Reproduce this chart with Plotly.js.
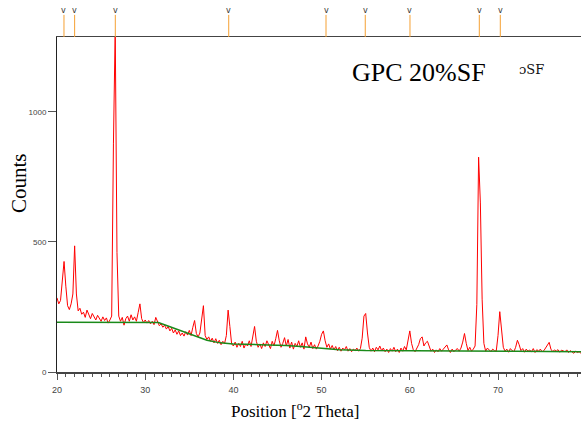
<!DOCTYPE html>
<html>
<head>
<meta charset="utf-8">
<script src="https://cdn.plot.ly/plotly-3.0.1.min.js"></script>
<style>html,body{margin:0;padding:0;background:#fff;}#chart{width:581px;height:424px;}</style>
</head>
<body>
<div id="chart"></div>
<script>
// Scan grid (degrees 2-theta)
const startAngle = 20.0;
const stepAngle = 0.2;
const counts = [
  285,262,275,340,425,330,255,240,262,300,
  485,300,235,245,222,230,210,238,218,205,
  225,212,200,218,205,195,212,198,208,188,
  200,215,880,1320,460,215,195,210,180,205,
  215,195,220,200,212,195,228,262,205,190,
  200,188,198,185,195,182,210,190,178,185,
  172,180,165,175,158,168,150,162,145,158,
  140,150,138,155,142,160,140,172,198,148,
  135,150,215,255,140,125,135,118,130,112,
  128,110,122,105,118,110,140,238,175,108,
  100,115,95,110,98,118,92,108,100,120,
  98,130,175,118,95,108,90,112,98,120,
  102,90,118,100,128,160,120,95,110,132,
  100,125,92,115,88,110,98,120,95,112,
  88,135,108,95,115,90,105,88,100,118,
  145,158,120,95,108,88,102,85,98,82,
  95,80,92,85,98,80,90,78,88,82,
  92,80,90,130,215,225,150,95,80,92,
  78,95,85,100,82,92,78,88,75,90,
  80,95,78,88,75,92,80,98,85,130,
  158,110,85,78,92,105,128,135,100,112,
  118,95,80,88,75,85,78,90,80,88,
  95,104,85,75,88,78,85,90,80,92,
  115,148,110,82,95,80,88,100,260,826,
  650,280,110,80,92,85,78,88,82,80,
  140,232,170,95,80,88,76,90,82,78,
  95,122,105,82,90,76,88,80,84,78,
  90,75,86,80,88,78,82,92,105,114,
  88,78,85,80,86,76,84,80,78,85,
  75,82,78,72,80,75,78,72
];
const angles = counts.map((_, i) => +(startAngle + i * stepAngle).toFixed(2));

// Background curve
const bgAngles = [20, 31.5, 32.5, 34, 35.5, 37, 38.5, 40, 43, 46, 48, 50, 52, 55, 58, 65, 72, 79.5];
const bgCounts = [191, 190, 178, 160, 140, 122, 112, 108, 105, 102, 97, 91, 86, 83, 82, 81, 80, 78];

// Reference peak positions (top markers)
const refPeaks = [20.79, 22.0, 26.61, 39.47, 50.5, 54.95, 60.02, 67.88, 70.26];

// Tick labels
const xTicks = [20, 30, 40, 50, 60, 70];
const yTicks = [0, 500, 1000];

const traces = [
  {x: angles, y: counts, type: 'scatter', mode: 'lines',
   line: {color: '#ff0000', width: 1}, hoverinfo: 'skip'},
  {x: bgAngles, y: bgCounts, type: 'scatter', mode: 'lines',
   line: {color: '#1a8a1a', width: 1.5}, hoverinfo: 'skip'}
];

const shapes = refPeaks.map(p => ({
  type: 'line', xref: 'x', yref: 'paper', x0: p, x1: p, y0: 1, y1: 1.066,
  line: {color: '#f5a033', width: 1}
}));

const annotations = refPeaks.map(p => ({
  x: p, xref: 'x', y: 1.078, yref: 'paper', text: 'v', showarrow: false,
  font: {family: 'DejaVu Sans, sans-serif', size: 8, color: '#333'},
  xanchor: 'center', yanchor: 'middle'
}));

annotations.push(
  {x: -0.0725, y: 0.564, xref: 'paper', yref: 'paper', text: 'Counts', showarrow: false,
   textangle: -90, xanchor: 'center', yanchor: 'middle',
   font: {family: 'Liberation Serif, serif', size: 21, color: '#000'}},
  {x: 0.454, y: -0.113, xref: 'paper', yref: 'paper', text: 'Position [<sup>o</sup>2 Theta]', showarrow: false,
   xanchor: 'center', yanchor: 'middle',
   font: {family: 'Liberation Serif, serif', size: 17, color: '#000'}},
  {x: 0.691, y: 0.8955, xref: 'paper', yref: 'paper', text: 'GPC 20%SF', showarrow: false,
   xanchor: 'center', yanchor: 'middle',
   font: {family: 'Liberation Serif, serif', size: 26, color: '#000'}},
  {x: 0.9046, y: 0.9015, xref: 'paper', yref: 'paper', text: 'ɔSF', showarrow: false,
   xanchor: 'center', yanchor: 'middle',
   font: {family: 'DejaVu Serif, serif', size: 13, color: '#111'}}
);

const layout = {
  width: 581, height: 424,
  margin: {l: 57, r: 0, t: 37, b: 52, pad: 0},
  paper_bgcolor: '#fff', plot_bgcolor: '#fff',
  showlegend: false,
  xaxis: {
    range: [20, 79.41], showgrid: false, zeroline: false,
    showline: true, linecolor: '#444', linewidth: 1.5, mirror: true,
    ticks: 'outside', ticklen: 6, tickcolor: '#555', tickwidth: 1,
    tickvals: xTicks, ticktext: xTicks.map(String),
    ticklabelstandoff: 3,
    minor: {dtick: 1, tick0: 20, ticks: 'outside', ticklen: 3, tickcolor: '#555', showgrid: false},
    tickfont: {family: 'Liberation Sans, Arial, sans-serif', size: 9, color: '#444'}
  },
  yaxis: {
    range: [0, 1288], showgrid: false, zeroline: false,
    showline: true, linecolor: '#222', linewidth: 1,
    ticks: 'outside', ticklen: 8, tickcolor: '#555', tickwidth: 1,
    tickvals: yTicks, ticktext: yTicks.map(String),
    tickfont: {family: 'Liberation Sans, Arial, sans-serif', size: 8, color: '#444'}
  },
  shapes: shapes,
  annotations: annotations
};

Plotly.newPlot('chart', traces, layout, {displayModeBar: false, staticPlot: true});
</script>
</body>
</html>
